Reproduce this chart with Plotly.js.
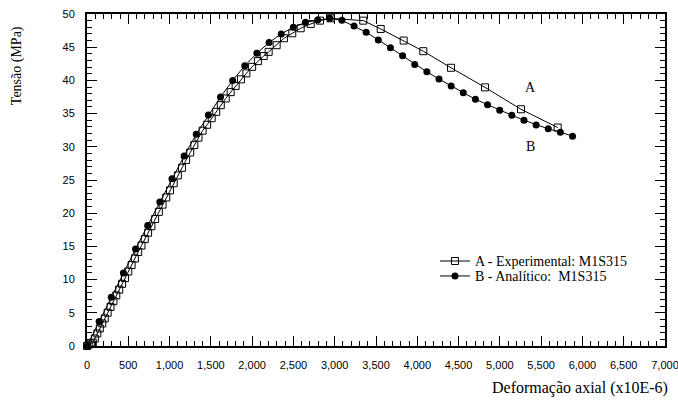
<!DOCTYPE html>
<html>
<head>
<meta charset="utf-8">
<script src="https://cdn.plot.ly/plotly-3.0.1.min.js"></script>
<style>html,body{margin:0;padding:0;background:#fff;}#chart{width:678px;height:402px;}</style>
</head>
<body>
<div id="chart"></div>
<script>
// A - Experimental: M1S315 (strain x10E-6, stress MPa)
const expStrain = [0, 20, 45, 70, 95, 125, 155, 185, 215, 250, 285, 320, 355, 390, 425, 460, 500, 540, 580, 620, 660, 700, 740, 780, 825, 870, 915, 960, 1005, 1050, 1100, 1150, 1200, 1250, 1300, 1350, 1400, 1455, 1510, 1565, 1620, 1680, 1740, 1800, 1865, 1930, 2000, 2070, 2140, 2200, 2297, 2386, 2486, 2588, 2709, 2822, 2951, 3346, 3557, 3835, 4073, 4408, 4820, 5256, 5700];
const expStress = [0, 0.2, 0.4, 0.5, 1.13, 1.89, 2.64, 3.4, 4.15, 5.02, 5.89, 6.75, 7.62, 8.49, 9.36, 10.23, 11.22, 12.2, 13.18, 14.16, 15.13, 16.1, 17.06, 18.03, 19.12, 20.2, 21.29, 22.37, 23.44, 24.51, 25.69, 26.84, 28.0, 29.14, 30.26, 31.38, 32.43, 33.32, 34.31, 35.26, 36.27, 37.28, 38.23, 39.17, 40.16, 41.06, 42.04, 42.9, 43.67, 44.3, 45.3, 46.35, 47.1, 47.85, 48.5, 49.0, 49.35, 49.0, 47.75, 46.0, 44.4, 41.9, 38.95, 35.65, 32.9];

// B - Analítico: M1S315
const anaStrain = [0, 147, 294, 441, 588, 735, 882, 1029, 1176, 1323, 1470, 1617, 1764, 1911, 2058, 2205, 2352, 2499, 2646, 2793, 2940, 3087, 3234, 3381, 3528, 3675, 3822, 3969, 4116, 4263, 4410, 4557, 4704, 4851, 4998, 5145, 5292, 5439, 5586, 5733, 5880];
const anaStress = [0, 3.7, 7.35, 11.0, 14.6, 18.15, 21.7, 25.2, 28.6, 31.9, 34.8, 37.5, 40.0, 42.2, 44.1, 45.7, 47.0, 48.0, 48.75, 49.1, 49.35, 49.05, 48.2, 47.25, 46.1, 44.9, 43.7, 42.4, 41.3, 40.2, 39.15, 38.15, 37.15, 36.35, 35.5, 34.75, 34.0, 33.3, 32.7, 32.2, 31.6];

const seriesNames = ["A - Experimental: M1S315", "B - Analítico:  M1S315"];
const curveLabels = ["A", "B"];
const curveLabelPos = [[5377, 39.0], [5365, 30.0]];
const xTitle = "Deformação axial (x10E-6)";
const yTitle = "Tensão (MPa)";

const serif = "Liberation Serif, Times New Roman, serif";
const sans = "Liberation Sans, Arial, sans-serif";

const traces = [
  {
    x: expStrain, y: expStress, name: seriesNames[0], type: "scatter", mode: "lines+markers",
    line: {color: "black", width: 1},
    marker: {symbol: "square-open", size: 7, color: "black", line: {width: 1, color: "black"}},
    cliponaxis: false, legend: "legend"
  },
  {
    x: anaStrain, y: anaStress, name: seriesNames[1], type: "scatter", mode: "lines+markers",
    line: {color: "black", width: 1},
    marker: {symbol: "circle", size: 7, color: "black"},
    cliponaxis: false, legend: "legend2"
  }
];

const axisCommon = {
  showgrid: false, zeroline: false, showline: true, linecolor: "black", linewidth: 2,
  mirror: "ticks", ticks: "inside", ticklen: 10, tickwidth: 1, tickcolor: "black",
  tickfont: {family: sans, size: 11, color: "black"}, ticklabelstandoff: 8,
  ticklabeloverflow: "allow"
};

const legendCommon = {
  x: 0.602, xanchor: "left", yanchor: "top",
  bgcolor: "rgba(0,0,0,0)", borderwidth: 0,
  font: {family: serif, size: 14, color: "black"},
  itemwidth: 30
};

const layout = {
  width: 678, height: 402,
  margin: {l: 87, r: 13, t: 14, b: 56},
  paper_bgcolor: "white", plot_bgcolor: "white",
  showlegend: true,
  legend: Object.assign({}, legendCommon, {y: 0.303}),
  legend2: Object.assign({}, legendCommon, {y: 0.258}),
  xaxis: Object.assign({}, axisCommon, {
    range: [0, 7000], dtick: 500, tick0: 0, tickformat: ",d",
    minor: {dtick: 100, ticks: "inside", ticklen: 5, tickcolor: "black", tickwidth: 1}
  }),
  yaxis: Object.assign({}, axisCommon, {
    range: [0, 50], dtick: 5, tick0: 0,
    minor: {dtick: 1, ticks: "inside", ticklen: 5, tickcolor: "black", tickwidth: 1}
  }),
  annotations: [
    {x: curveLabelPos[0][0], y: curveLabelPos[0][1], xref: "x", yref: "y", text: curveLabels[0], showarrow: false, font: {family: serif, size: 14, color: "black"}},
    {x: curveLabelPos[1][0], y: curveLabelPos[1][1], xref: "x", yref: "y", text: curveLabels[1], showarrow: false, font: {family: serif, size: 14, color: "black"}},
    {x: 1.009, y: -0.128, xref: "paper", yref: "paper", xanchor: "right", yanchor: "middle", text: xTitle, showarrow: false, font: {family: serif, size: 16, color: "black"}},
    {x: -0.121, y: 0.843, xref: "paper", yref: "paper", xanchor: "center", yanchor: "middle", text: yTitle, textangle: -90, showarrow: false, font: {family: serif, size: 14, color: "black"}}
  ]
};

Plotly.newPlot("chart", traces, layout, {displayModeBar: false, staticPlot: true});
</script>
</body>
</html>
